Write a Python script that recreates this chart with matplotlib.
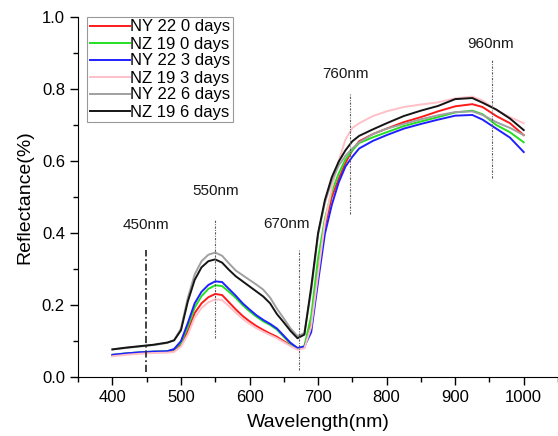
import numpy as np
import matplotlib
matplotlib.use("Agg")
import matplotlib.pyplot as plt
from matplotlib.ticker import MultipleLocator

plt.rcParams['font.family'] = ['Liberation Sans', 'DejaVu Sans']

wl = [400, 420, 440, 460, 480, 490, 500, 510, 520, 530, 540, 550, 560, 570,
      580, 590, 600, 610, 620, 630, 640, 650, 660, 670, 680, 690, 700, 710,
      720, 730, 740, 750, 760, 780, 800, 825, 850, 875, 900, 925, 940, 960,
      980, 1000]

ny22_0 = [0.060, 0.064, 0.067, 0.069, 0.070, 0.073, 0.090, 0.128, 0.178, 0.205,
          0.222, 0.231, 0.228, 0.208, 0.188, 0.170, 0.155, 0.142, 0.131, 0.121,
          0.112, 0.100, 0.088, 0.079, 0.083, 0.150, 0.290, 0.420, 0.500, 0.550,
          0.595, 0.630, 0.655, 0.675, 0.690, 0.708, 0.722, 0.738, 0.752, 0.758,
          0.750, 0.725, 0.705, 0.672]
nz19_0 = [0.062, 0.066, 0.069, 0.071, 0.072, 0.077, 0.095, 0.140, 0.193, 0.225,
          0.245, 0.255, 0.253, 0.237, 0.220, 0.200, 0.183, 0.168, 0.155, 0.145,
          0.132, 0.112, 0.092, 0.079, 0.086, 0.170, 0.330, 0.440, 0.515, 0.565,
          0.605, 0.630, 0.650, 0.666, 0.680, 0.697, 0.710, 0.722, 0.735, 0.740,
          0.730, 0.700, 0.680, 0.652]
ny22_3 = [0.062, 0.066, 0.069, 0.071, 0.072, 0.078, 0.100, 0.150, 0.205, 0.237,
          0.256, 0.266, 0.264, 0.245, 0.226, 0.205, 0.188, 0.172, 0.159, 0.148,
          0.135, 0.115, 0.095, 0.081, 0.085, 0.125, 0.265, 0.398, 0.478, 0.540,
          0.585, 0.612, 0.635, 0.656, 0.672, 0.690, 0.703, 0.715, 0.726, 0.728,
          0.715, 0.690, 0.665, 0.625]
nz19_3 = [0.058, 0.062, 0.065, 0.067, 0.068, 0.070, 0.085, 0.118, 0.165, 0.192,
          0.208, 0.216, 0.214, 0.197, 0.179, 0.162, 0.148, 0.136, 0.126, 0.117,
          0.108, 0.097, 0.086, 0.076, 0.080, 0.140, 0.285, 0.430, 0.525, 0.600,
          0.660, 0.692, 0.705, 0.725, 0.738, 0.750, 0.757, 0.763, 0.774, 0.779,
          0.768, 0.742, 0.722, 0.705]
ny22_6 = [0.077, 0.081, 0.085, 0.089, 0.095, 0.103, 0.135, 0.220, 0.285, 0.322,
          0.340, 0.346, 0.337, 0.316, 0.296, 0.283, 0.270, 0.257, 0.243, 0.221,
          0.190, 0.163, 0.135, 0.114, 0.122, 0.240, 0.395, 0.485, 0.545, 0.587,
          0.615, 0.635, 0.652, 0.675, 0.690, 0.703, 0.716, 0.727, 0.736, 0.738,
          0.728, 0.708, 0.692, 0.672]
nz19_6 = [0.077, 0.082, 0.086, 0.090, 0.096, 0.102, 0.130, 0.210, 0.270, 0.305,
          0.322, 0.327, 0.318, 0.298, 0.280, 0.266, 0.252, 0.238, 0.224, 0.205,
          0.175, 0.152, 0.128, 0.108, 0.118, 0.250, 0.400, 0.492, 0.555, 0.598,
          0.630, 0.655, 0.670, 0.688, 0.705, 0.725, 0.740, 0.753, 0.772, 0.775,
          0.762, 0.743, 0.718, 0.686]

labels = ["NY 22 0 days", "NZ 19 0 days", "NY 22 3 days",
          "NZ 19 3 days", "NY 22 6 days", "NZ 19 6 days"]
colors = ["#ff1a1a", "#22e022", "#2020ff", "#ffc0c8", "#a0a0a0", "#151515"]
series = [ny22_0, nz19_0, ny22_3, nz19_3, ny22_6, nz19_6]

# marker lines: position, y from, y to, label text, label x, label y
marks_x = [449, 550, 672, 747, 954]
marks_y0 = [0.014, 0.108, 0.02, 0.453, 0.552]
marks_y1 = [0.353, 0.44, 0.355, 0.785, 0.882]
mark_txt = ["450nm", "550nm", "670nm", "760nm", "960nm"]
txt_x = [449, 550, 654, 740, 952]
txt_y = [0.422, 0.517, 0.425, 0.842, 0.925]

fig = plt.figure(figsize=(5.58, 4.36), dpi=100)
ax = fig.add_axes([0.14, 0.135, 0.86, 0.826])

for s, c, l in zip(series, colors, labels):
    ax.plot(wl, s, color=c, lw=1.4, label=l)

for i in range(len(marks_x)):
    if i == 0:
        ax.plot([marks_x[i]] * 2, [marks_y0[i], marks_y1[i]], color='0.2',
                lw=1.3, ls=(0, (4, 1.5, 1, 1.5)))
    else:
        ax.plot([marks_x[i]] * 2, [marks_y0[i], marks_y1[i]], color='0.35',
                lw=0.8, ls=(0, (2, 1.2, 0.8, 1.2)))
    ax.text(txt_x[i], txt_y[i], mark_txt[i], ha='center', va='center',
            fontsize=11, color='0.1')

ax.set_xlim(350, 1050)
ax.set_ylim(0, 1.0)
ax.xaxis.set_major_locator(MultipleLocator(100))
ax.xaxis.set_minor_locator(MultipleLocator(50))
ax.yaxis.set_major_locator(MultipleLocator(0.2))
ax.yaxis.set_minor_locator(MultipleLocator(0.1))
ax.set_xticks([400, 500, 600, 700, 800, 900, 1000])
ax.yaxis.set_major_formatter(plt.FormatStrFormatter('%.1f'))
ax.tick_params(which='major', direction='out', length=6, width=1, labelsize=12)
ax.tick_params(which='minor', direction='out', length=3.5, width=1)
ax.spines['top'].set_visible(False)
ax.spines['right'].set_visible(False)

ax.set_xlabel("Wavelength(nm)", fontsize=14, labelpad=6)
ax.set_ylabel("Reflectance(%)", fontsize=14, labelpad=6)

leg = ax.legend(loc='upper left', bbox_to_anchor=(87 / 558, 1 - 17 / 436),
                bbox_transform=fig.transFigure, fontsize=12, frameon=True,
                fancybox=False, edgecolor='0.5', borderaxespad=0,
                borderpad=0.15, labelspacing=0.12, handlelength=2.4,
                handletextpad=0.05)
leg.get_frame().set_linewidth(0.8)

fig.savefig("out.png", dpi=100)
